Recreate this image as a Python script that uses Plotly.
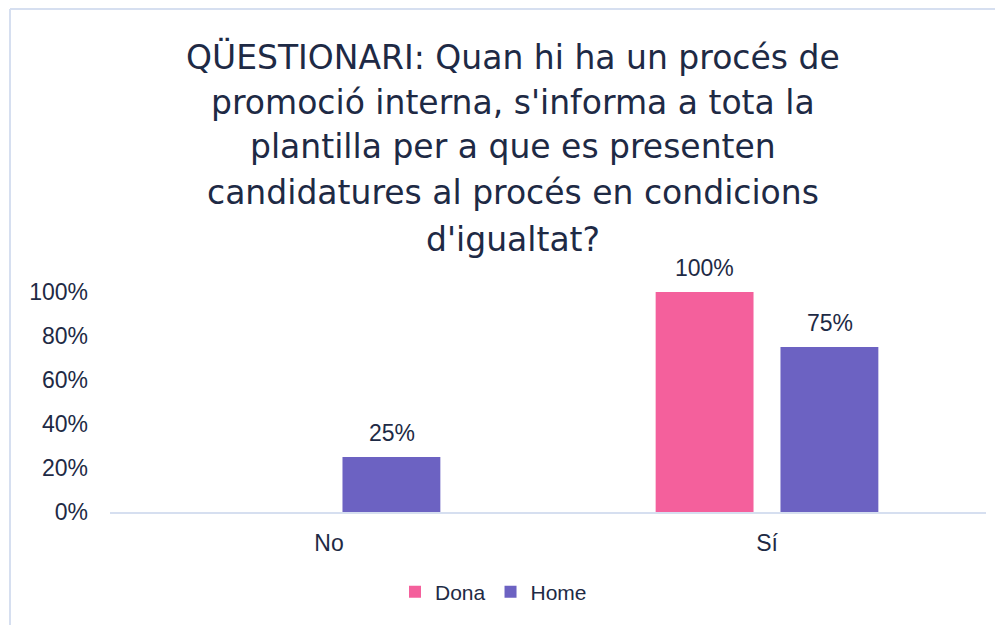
import plotly.graph_objects as go

categories = ["No", "Sí"]
dona = [0.0, 1.0]
home = [0.25, 0.75]
series_names = ["Dona", "Home"]
tick_vals = [0, 0.2, 0.4, 0.6, 0.8, 1.0]
tick_text = ["0%", "20%", "40%", "60%", "80%", "100%"]
title_lines = [
    "QÜESTIONARI: Quan hi ha un procés de",
    "promoció interna, s'informa a tota la",
    "plantilla per a que es presenten",
    "candidatures al procés en condicions",
    "d'igualtat?",
]

TXT = "#1e2a45"
FRAME = "#d6dff0"
COLORS = ["#f4609c", "#6c62c2"]

# plot area (figure pixels)
L, R, T, B = 102, 25, 284, 121
PH = 625 - T - B
PW = 1003 - L - R

def py(fig_y):
    return (625 - B - fig_y) / PH

def px(fig_x):
    return (fig_x - L) / PW

fig = go.Figure()
for name, vals, col in zip(series_names, [dona, home], COLORS):
    fig.add_trace(go.Bar(name=name, x=categories, y=vals, marker_color=col,
                         marker_line_width=0, cliponaxis=False))

annotations = []
# data labels
for sign, vals in zip([-1, 1], [dona, home]):
    for c, v in zip(categories, vals):
        if v > 0:
            annotations.append(dict(x=c, y=v, xref="x", yref="y", text=f"{v:.0%}",
                                    showarrow=False, xshift=sign * 62.5, yshift=24,
                                    yanchor="middle",
                                    font=dict(size=23, color=TXT, family="Liberation Sans")))
# title lines
title_centers = [49, 94, 139, 184, 231]
for line, cy in zip(title_lines, title_centers):
    annotations.append(dict(x=px(505), y=py(cy), xref="paper", yref="paper", text=line,
                            showarrow=False, xanchor="center", yanchor="middle",
                            font=dict(family="DejaVu Sans", size=33, color=TXT)))

fig.update_layout(
    width=1003, height=625,
    margin=dict(l=L, r=R, t=T, b=B, autoexpand=False),
    paper_bgcolor="white", plot_bgcolor="white",
    barmode="group", bargap=0.43, bargroupgap=0.216,
    font=dict(family="Liberation Sans", size=23, color=TXT),
    showlegend=True,
    legend=dict(orientation="h", x=px(387), xanchor="left", xref="paper",
                y=py(584), yanchor="middle", yref="paper",
                font=dict(size=21, color=TXT), traceorder="normal"),
    xaxis=dict(showline=True, linecolor=FRAME, linewidth=2, ticks="", automargin=False,
               tickfont=dict(size=23, color=TXT), ticklabelstandoff=9),
    yaxis=dict(range=[0, 1.0], tickvals=tick_vals, ticktext=tick_text, showgrid=False,
               zeroline=False, showline=False, ticks="", automargin=False,
               tickfont=dict(size=23, color=TXT), ticklabelstandoff=21),
    annotations=annotations,
    shapes=[
        dict(type="line", xref="paper", yref="paper", x0=px(2), x1=px(1040), y0=py(1), y1=py(1),
             line=dict(color=FRAME, width=2)),
        dict(type="line", xref="paper", yref="paper", x0=px(2), x1=px(2), y0=py(1), y1=py(660),
             line=dict(color=FRAME, width=2)),
    ],
)

fig.write_html("out.html")
